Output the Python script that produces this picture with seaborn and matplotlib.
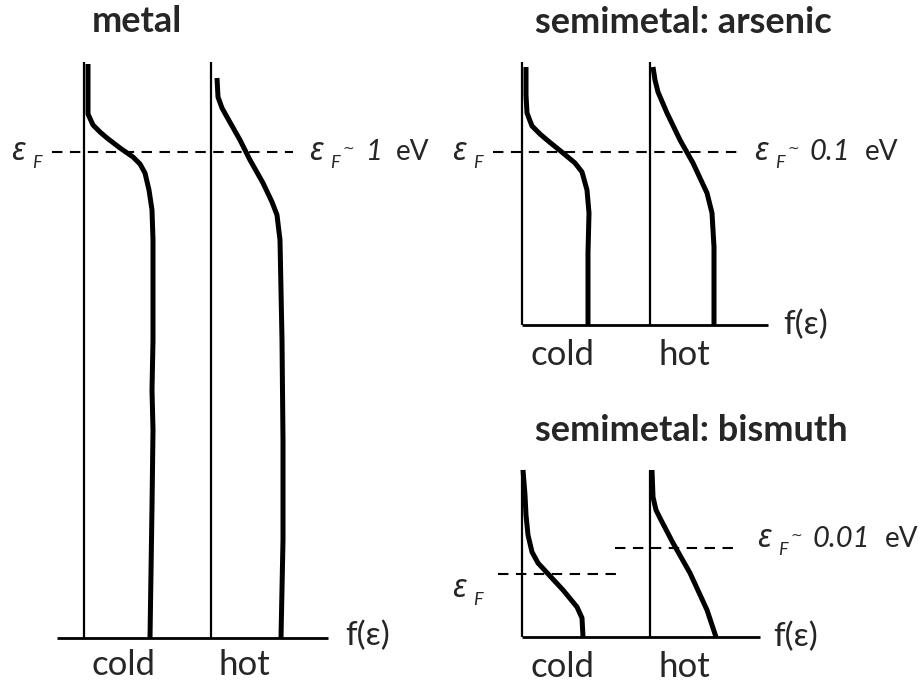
import matplotlib
matplotlib.use("Agg")
import matplotlib.pyplot as plt
import seaborn as sns

sns.set_theme(style="white")
plt.rcParams["font.family"] = ["Lato", "Noto Sans", "DejaVu Sans"]

# Fermi-Dirac sketches (pixel space, y grows downward)
metal_cold_x = [88, 88, 88, 93, 100, 107, 120, 133, 140, 145, 149, 152, 153, 153, 152, 153, 152, 150]
metal_cold_y = [64, 90, 114, 125, 132, 138, 148, 157, 164, 173, 190, 210, 240, 340, 390, 430, 507, 638]
metal_hot_x = [217, 218, 222, 227, 240, 250, 263, 272, 277, 280, 282, 283, 283, 281]
metal_hot_y = [78, 97, 108, 117, 140, 160, 183, 202, 215, 240, 340, 440, 540, 638]

arsenic_cold_x = [526, 526, 527, 532, 540, 547, 563, 575, 582, 587, 589, 588, 588]
arsenic_cold_y = [67, 95, 113, 126, 134, 140, 153, 163, 172, 190, 213, 253, 325]
arsenic_hot_x = [653, 655, 658, 667, 680, 693, 707, 712, 714, 714]
arsenic_hot_y = [67, 80, 92, 113, 140, 163, 193, 213, 247, 325]

bismuth_cold_x = [523, 525, 526, 528, 532, 538, 550, 563, 577, 582, 583]
bismuth_cold_y = [470, 495, 515, 535, 552, 563, 576, 590, 607, 618, 637]
bismuth_hot_x = [652, 653, 656, 661, 673, 690, 707, 716]
bismuth_hot_y = [470, 497, 510, 520, 543, 573, 610, 637]

# panel frames: cold axis x, hot axis x, top y, base y, base start / end x
frame_cold_x = [84, 522, 522]
frame_hot_x = [211, 650, 650]
frame_top_y = [62, 62, 470]
frame_base_y = [638, 325, 637]
frame_left_x = [57, 522, 522]
frame_right_x = [328, 768, 760]

# Fermi levels: (x start, x end, y)
fermi_lines = [(52, 293, 152), (493, 737, 152), (498, 622, 574), (615, 737, 548)]

titles = ["metal", "semimetal: arsenic", "semimetal: bismuth"]
title_pos = [(137, 32), (683, 33), (691, 441)]
fermi_values = ["1", "0.1", "0.01"]

fig = plt.figure(figsize=(9.22, 6.82), dpi=100)
ax = fig.add_axes([0, 0, 1, 1])


def stroke(xs, ys, lw):
    sns.lineplot(x=xs, y=ys, sort=False, estimator=None, errorbar=None,
                 color="black", lw=lw, ax=ax)


for cx, hx, ty, by, lx, rx in zip(frame_cold_x, frame_hot_x, frame_top_y,
                                  frame_base_y, frame_left_x, frame_right_x):
    stroke([cx, cx], [ty, by], 1.6)
    stroke([hx, hx], [ty, by], 1.6)
    stroke([lx, rx], [by, by], 2.0)

for xs, ys in [(metal_cold_x, metal_cold_y), (metal_hot_x, metal_hot_y),
               (arsenic_cold_x, arsenic_cold_y), (arsenic_hot_x, arsenic_hot_y),
               (bismuth_cold_x, bismuth_cold_y), (bismuth_hot_x, bismuth_hot_y)]:
    stroke(xs, ys, 3.6)
for l in ax.lines:
    l.set_solid_joinstyle("round")
    l.set_solid_capstyle("butt")

for x0, x1, y in fermi_lines:
    ax.plot([x0, x1], [y, y], color="black", lw=1.5, ls=(0, (5, 3.6)))

ax.set_xlim(0, 922)
ax.set_ylim(682, 0)
ax.axis("off")

for t, (x, y) in zip(titles, title_pos):
    ax.text(x, y, t, fontsize=26, fontweight="bold", ha="center", va="baseline")

# cold / hot and f(eps) labels
for cx, hx, by in zip([123, 562, 562], [244, 684, 684], [675, 365, 677]):
    ax.text(cx, by, "cold", fontsize=25, ha="center", va="baseline")
    ax.text(hx, by, "hot", fontsize=25, ha="center", va="baseline")
for x, y in [(345, 636), (783, 325), (773, 637)]:
    ax.text(x, y, "f(ε)", fontsize=24, ha="left", va="center")

eps_font = ["Noto Sans", "DejaVu Sans"]


def eps_f(x, y):
    ax.text(x - 1, y, "ε", fontsize=23, style="italic", family=eps_font, va="baseline")
    ax.text(x + 20, y + 8, "F", fontsize=13, style="italic", va="baseline")


# left-side labels
eps_f(12, 160)
eps_f(453, 160)
eps_f(453, 597)

# right-side labels with value
for (x, y), val in zip([(310, 160), (755, 160), (758, 547)], fermi_values):
    eps_f(x, y)
    ax.text(x + 32, y - 7, "~", fontsize=10, family=["DejaVu Sans"], va="baseline")
    vt = ax.text(x + 55, y, val, fontsize=21, style="italic", va="baseline")
    ax.annotate("eV", xy=(1, 0), xycoords=vt, xytext=(10, 0),
                textcoords="offset points", fontsize=20, va="bottom")

fig.savefig("out.png", dpi=100)
